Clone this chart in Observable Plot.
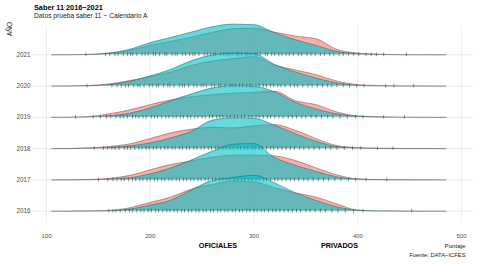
<!DOCTYPE html>
<html><head><meta charset="utf-8">
<script src="https://cdn.jsdelivr.net/npm/d3@7"></script>
<script src="https://cdn.jsdelivr.net/npm/@observablehq/plot@0.6"></script>
<style>body{margin:0;background:#fff;} svg{font-family:"Liberation Sans",Arial,sans-serif;}</style>
</head><body><div id="chart"></div>
<script>
// Años (de abajo hacia arriba)
const years = [2016, 2017, 2018, 2019, 2020, 2021];
const tipos = ["PRIVADOS", "OFICIALES"];
const colores = {PRIVADOS: "#F8766D", OFICIALES: "#00BFC4"};
const xTicks = [100, 200, 300, 400, 500];

// Puntaje (eje x) donde se leyó la densidad
const puntaje = [105, 120, 140, 160, 180, 200, 220, 240, 260, 280, 300, 320, 340, 360, 380, 400, 420, 440, 460, 485];

// Densidad estimada (x 1e-4)
const oficiales2016 = [0, 0.1, 0.3, 1, 6, 18, 33, 64, 92, 101, 108, 85, 55, 32, 13, 3, 0.5, 0.2, 0.1, 0];
const oficiales2017 = [0, 0.1, 0.5, 2, 6, 18, 36, 60, 86, 107, 109, 67, 44, 25, 9, 2, 0.5, 0.2, 0.1, 0];
const oficiales2018 = [0, 0.1, 1, 3, 8, 17, 32, 52, 85, 93, 91, 70, 45, 22, 6, 2, 0.5, 0.2, 0.1, 0];
const oficiales2019 = [0, 0.1, 1, 4, 12, 28, 50, 70, 88, 95, 93, 76, 45, 25, 10, 3, 1, 0.3, 0.1, 0];
const oficiales2020 = [0, 0.2, 1, 4, 14, 30, 50, 76, 93, 99, 97, 65, 42, 24, 9, 2, 0.5, 0.2, 0.1, 0];
const oficiales2021 = [0, 0.2, 1, 5, 16, 36, 52, 68, 84, 92, 90, 66, 45, 28, 10, 3, 1, 0.3, 0.1, 0];

const privados2016 = [0, 0.2, 0.5, 2, 10, 26, 42, 66, 80, 90, 88, 70, 55, 42, 22, 3, 1, 0.5, 0.2, 0];
const privados2017 = [0, 0.2, 1, 4, 13, 30, 46, 57, 68, 74, 74, 72, 58, 36, 15, 3, 1, 0.5, 0.2, 0];
const privados2018 = [0, 0.3, 2, 6, 14, 30, 47, 58, 64, 62, 68, 72, 55, 30, 9, 3, 1, 0.5, 0.2, 0];
const privados2019 = [0, 0.5, 2, 10, 22, 38, 52, 62, 68, 72, 75, 78, 50, 38, 16, 4, 1.5, 0.5, 0.2, 0];
const privados2020 = [0, 0.3, 1.5, 6, 16, 28, 42, 62, 75, 82, 88, 63, 48, 34, 15, 4, 1.5, 0.5, 0.2, 0];
const privados2021 = [0, 0.2, 1, 4, 13, 28, 40, 53, 67, 78, 80, 68, 56, 48, 16, 5, 1.5, 0.5, 0.2, 0];

// Marcas de la alfombra (puntajes individuales aproximados)
const rug2016 = [160, 164, 167, 171, 176, 180, 183, 187, 191, 194, 198, 201, 205, 208, 212, 216, 219, 223, 226, 230, 233, 237, 240, 244, 247, 251, 254, 258, 261, 265, 268, 272, 275, 279, 282, 286, 289, 293, 296, 300, 303, 307, 310, 314, 318, 321, 325, 329, 333, 337, 341, 345, 350, 354, 359, 364, 369, 375, 381, 388, 396, 405, 452];
const rug2017 = [150, 159, 164, 168, 172, 175, 179, 183, 186, 190, 193, 197, 200, 204, 207, 211, 214, 218, 221, 225, 228, 232, 235, 239, 242, 246, 249, 253, 256, 260, 263, 267, 270, 274, 277, 281, 284, 288, 291, 295, 298, 302, 305, 309, 312, 316, 320, 323, 327, 331, 335, 339, 343, 348, 352, 357, 362, 367, 372, 378, 384, 391, 398, 408, 428];
const rug2018 = [146, 155, 159, 163, 166, 170, 175, 178, 181, 185, 189, 192, 196, 199, 203, 206, 210, 214, 217, 221, 224, 228, 231, 235, 238, 242, 245, 249, 252, 256, 259, 263, 266, 270, 273, 277, 280, 284, 287, 291, 294, 298, 301, 305, 308, 312, 316, 319, 323, 327, 331, 335, 339, 344, 348, 353, 358, 363, 369, 374, 380, 387, 395, 403, 419, 434];
const rug2019 = [128, 145, 152, 158, 162, 167, 171, 174, 178, 183, 186, 189, 193, 196, 201, 204, 207, 211, 215, 218, 222, 225, 229, 232, 236, 239, 243, 246, 250, 253, 257, 260, 264, 267, 270, 274, 277, 281, 284, 288, 291, 295, 298, 302, 305, 309, 313, 316, 320, 324, 328, 333, 337, 341, 346, 350, 355, 360, 365, 371, 376, 383, 390, 398, 405, 425, 445];
const rug2020 = [139, 163, 168, 172, 176, 179, 184, 188, 190, 194, 199, 202, 206, 208, 213, 217, 219, 223, 228, 231, 233, 237, 242, 245, 249, 251, 254, 259, 262, 266, 268, 272, 277, 279, 282, 286, 289, 293, 296, 298, 302, 305, 309, 312, 316, 319, 323, 326, 330, 335, 339, 342, 347, 352, 356, 361, 366, 371, 375, 380, 386, 392, 399, 406, 427, 435, 454];
const rug2021 = [138, 157, 161, 166, 169, 174, 178, 181, 183, 187, 192, 195, 198, 203, 205, 209, 214, 216, 221, 224, 226, 231, 234, 238, 241, 243, 247, 252, 255, 258, 261, 263, 268, 271, 274, 276, 279, 283, 285, 288, 292, 294, 297, 301, 303, 306, 311, 313, 317, 320, 324, 327, 331, 334, 338, 343, 346, 351, 355, 359, 364, 368, 373, 377, 382, 386, 391, 396, 401, 408, 413, 418, 425, 447];

const dens = {
  OFICIALES: {2016: oficiales2016, 2017: oficiales2017, 2018: oficiales2018, 2019: oficiales2019, 2020: oficiales2020, 2021: oficiales2021},
  PRIVADOS: {2016: privados2016, 2017: privados2017, 2018: privados2018, 2019: privados2019, 2020: privados2020, 2021: privados2021}
};
const rugs = {2016: rug2016, 2017: rug2017, 2018: rug2018, 2019: rug2019, 2020: rug2020, 2021: rug2021};

const ROW = 93.84; // density units per ridge row

const marks = [
  Plot.ruleX(xTicks, {stroke: "#e6e6e6", strokeWidth: 0.7}),
  Plot.ruleY(years.map((y, i) => i), {stroke: "#e3e3e3", strokeWidth: 0.7})
];
for (let i = years.length - 1; i >= 0; i--) {
  const yr = years[i];
  for (const t of tipos) {
    const rows = puntaje.map((p, j) => ({p, d: dens[t][yr][j]}));
    marks.push(Plot.areaY(rows, {x: "p", y1: () => i, y2: r => i + r.d / ROW, fill: colores[t], fillOpacity: 0.6, curve: "monotone-x"}));
    marks.push(Plot.lineY(rows, {x: "p", y: r => i + r.d / ROW, stroke: "#333", strokeWidth: 0.4, strokeOpacity: 0.8, curve: "monotone-x"}));
  }
  marks.push(Plot.ruleX(rugs[yr], {x: d => d, y1: () => i - 0.06, y2: () => i + 0.06, stroke: "#222", strokeOpacity: 0.6, strokeWidth: 0.8}));
}
marks.push(Plot.axisX({ticks: xTicks, tickSize: 0, tickPadding: 11, fontSize: 6, fill: "#4d4d4d", label: null}));
marks.push(Plot.axisY({ticks: years.map((y, i) => i), tickFormat: i => String(years[i]), tickSize: 0, tickPadding: 2, fontSize: 6.3, fill: "#4d4d4d", label: null}));

const chart = Plot.plot({
  width: 478, height: 264,
  marginLeft: 32, marginRight: 5, marginTop: 26, marginBottom: 42,
  x: {domain: [86.5, 511.6]},
  y: {domain: [-0.361, 5.905]},
  style: {fontFamily: "Liberation Sans, Arial, sans-serif", background: "#fff"},
  marks
});
document.getElementById("chart").appendChild(chart);

const svg = d3.select(chart);
const T = (x, y, s, opts) => {
  const t = svg.append("text").attr("x", x).attr("y", y).text(s)
    .attr("font-size", opts.size).attr("fill", opts.fill || "#000")
    .attr("font-family", "Liberation Sans, Arial, sans-serif")
    .attr("text-anchor", opts.anchor || "start");
  if (opts.bold) t.attr("font-weight", "bold");
  if (opts.transform) t.attr("transform", opts.transform).attr("x", 0).attr("y", 0);
  return t;
};
T(34, 9.5, "Saber 11 2016\u22122021", {size: 7.3, bold: true});
T(34, 17.5, "Datos prueba saber 11 \u2212 Calendario A", {size: 6.7, fill: "#222"});
T(0, 0, "AÑO", {size: 6.5, fill: "#222", anchor: "middle", transform: "translate(12.3,29) rotate(-90)"});
T(218, 247.5, "OFICIALES", {size: 7.2, bold: true, anchor: "middle"});
T(339.5, 247.5, "PRIVADOS", {size: 7.2, bold: true, anchor: "middle"});
T(465.5, 247.5, "Puntaje", {size: 6.2, fill: "#222", anchor: "end"});
T(465.5, 256.7, "Fuente: DATA\u2212ICFES", {size: 5.8, fill: "#222", anchor: "end"});
</script></body></html>
